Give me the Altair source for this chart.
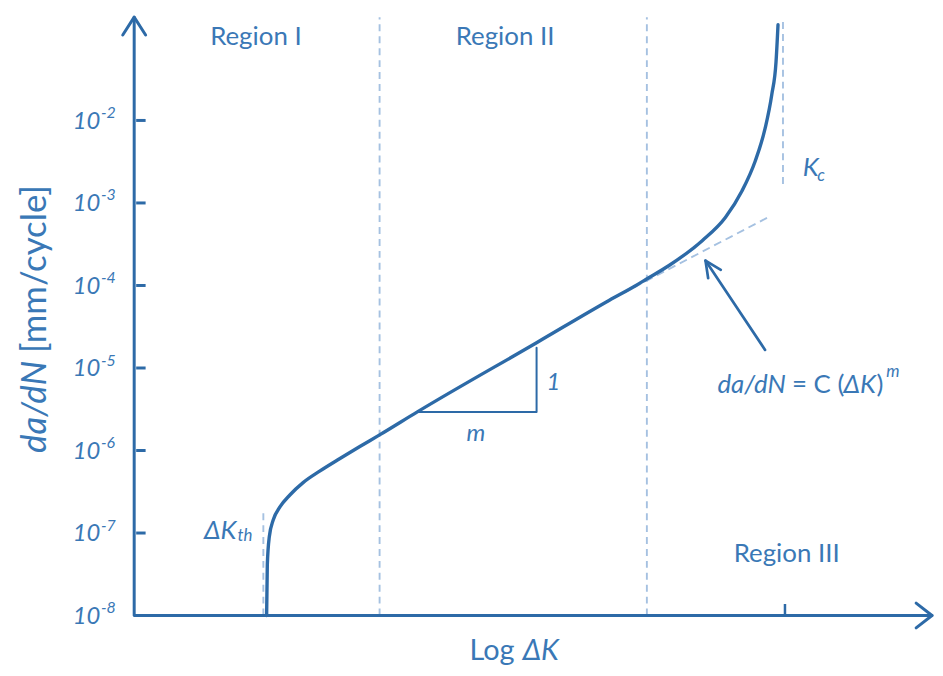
import altair as alt
import pandas as pd

# ---------------- data: x = log ΔK (arbitrary units), y = log10(da/dN) ----------------
curve_x = [1.333, 1.34, 1.36, 1.40, 1.467, 1.567, 1.70, 1.867, 2.067, 2.267, 2.47,
           2.85, 4.05, 4.783, 5.05, 5.15, 5.383, 5.717, 5.95, 6.117, 6.25, 6.35,
           6.417, 6.46, 6.48]
curve_logy = [-8.0, -7.382, -7.045, -6.840, -6.684, -6.539, -6.389, -6.250, -6.100, -5.955, -5.811,
              -5.532, -4.694, -4.179, -4.00, -3.927, -3.758, -3.457, -3.176, -2.855, -2.494, -2.097,
              -1.688, -1.29, -0.84]

paris_x = [4.80, 6.37]
paris_logy = [-4.167, -3.18]

guide_x = [1.30, 2.47, 5.16, 6.53]
guide_top = [-6.73, -0.75, -0.75, -0.77]
guide_bottom = [-8.0, -8.0, -8.0, -2.77]

tri_x = [2.85, 4.05, 4.05]
tri_logy = [-5.532, -5.532, -4.754]

ytick_exp = [-8, -7, -6, -5, -4, -3, -2]
kc_tick_x = [6.55]

axis_x = [0.0, 0.0, 8.03]
axis_logy = [-0.748, -8.0, -8.0]
yarrow_x = [-0.115, 0.0, 0.115]
yarrow_logy = [-0.965, -0.748, -0.965]
xarrow_x = [7.87, 8.03, 7.87]
xarrow_logy = [-7.85, -8.0, -8.15]

ann_x = [6.35, 5.75]
ann_logy = [-4.781, -3.698]
head_x = [5.777, 5.75, 5.904]
head_logy = [-3.912, -3.698, -3.810]

BLUE = "#2d6aa7"
TXT = "#3a78b6"
LIGHT = "#a5c1e1"
FONT = "Lato"

xs = alt.Scale(domain=[-1.27, 8.06], nice=False, zero=False)
ys = alt.Scale(type="log", domain=[10 ** -8.61, 10 ** -0.663], nice=False)


def X(f="x"):
    return alt.X(f"{f}:Q", scale=xs, axis=None)


def Y(f="y"):
    return alt.Y(f"{f}:Q", scale=ys, axis=None)


def path_df(xv, lv, grp=0):
    return pd.DataFrame({"x": xv, "y": [10 ** v for v in lv], "i": list(range(len(xv))), "g": grp})


def path_layer(df, color, width, dash=None, interp="linear"):
    kw = dict(color=color, strokeWidth=width, interpolate=interp, strokeCap="round", strokeJoin="round")
    if dash:
        kw["strokeDash"] = dash
        kw["strokeCap"] = "butt"
    return alt.Chart(df).mark_line(**kw).encode(
        x=X(), y=Y(), order=alt.Order("i:Q"), detail="g:N")


def text_layer(xv, lv, labels, size, italic=False, align="left", angle=0, baseline="alphabetic"):
    df = pd.DataFrame({"x": xv, "y": [10 ** v for v in lv], "t": labels})
    kw = dict(font=FONT, fontSize=size, align=align, baseline=baseline, color=TXT)
    if italic:
        kw["fontStyle"] = "italic"
    if angle:
        kw["angle"] = angle
    return alt.Chart(df).mark_text(**kw).encode(x=X(), y=Y(), text="t:N")


# guides (dashed verticals)
guide_df = pd.DataFrame({"x": guide_x, "y": [10 ** v for v in guide_bottom],
                         "y2": [10 ** v for v in guide_top]})
guides = alt.Chart(guide_df).mark_rule(color=LIGHT, strokeWidth=1.9, strokeDash=[7, 5]).encode(
    x=X(), y=Y(), y2="y2:Q")

paris = path_layer(path_df(paris_x, paris_logy), LIGHT, 1.9, dash=[8, 5])
curve = path_layer(path_df(curve_x, curve_logy), BLUE, 3.4, interp="monotone")
tri = path_layer(path_df(tri_x, tri_logy), BLUE, 2.0)

axes_df = pd.concat([path_df(axis_x, axis_logy, 0), path_df(yarrow_x, yarrow_logy, 1),
                     path_df(xarrow_x, xarrow_logy, 2)])
axes = path_layer(axes_df, BLUE, 3.0)

ann_df = pd.concat([path_df(ann_x, ann_logy, 0), path_df(head_x, head_logy, 1)])
ann = path_layer(ann_df, BLUE, 2.7)

# tick marks
yt_df = pd.DataFrame({"x": [0.02] * 6, "x2": [0.115] * 6, "y": [10.0 ** e for e in ytick_exp[1:]]})
yticks = alt.Chart(yt_df).mark_rule(color=BLUE, strokeWidth=3).encode(x=X(), x2="x2:Q", y=Y())
xt_df = pd.DataFrame({"x": kc_tick_x, "y": [10 ** -8.0], "y2": [10 ** -7.86]})
xticks = alt.Chart(xt_df).mark_rule(color=BLUE, strokeWidth=2.5).encode(x=X(), y=Y(), y2="y2:Q")

# tick labels 10^n
ten_lab = text_layer([-0.34] * 7, [e - 0.10 for e in ytick_exp], ["10"] * 7, 24, italic=True, align="right")
exp_lab = text_layer([-0.335] * 7, [e + 0.03 for e in ytick_exp], [str(e) for e in ytick_exp], 16, italic=True)

# region labels
regions = text_layer([1.225, 3.733, 6.567], [-1.089, -1.089, -7.350],
                     ["Region I", "Region II", "Region III"], 26, align="center")

# ΔK_th and K_c
dkth = text_layer([1.03], [-7.069], ["ΔK"], 26, italic=True, align="right")
dkth_sub = text_layer([1.04], [-7.10], ["th"], 17, italic=True)
kc = text_layer([6.73], [-2.674], ["K"], 26, italic=True)
kc_sub = text_layer([6.875], [-2.734], ["c"], 17, italic=True)

# slope triangle labels
one = text_layer([4.22], [-5.263], ["1"], 24, italic=True, align="center")
m_lab = text_layer([3.44], [-5.889], ["m"], 24, italic=True, align="center")

# formula  da/dN = C (ΔK)^m
f_da = text_layer([5.87], [-5.30], ["da/dN"], 26, italic=True)
f_eq = text_layer([6.62], [-5.30], ["= C ("], 26)
f_dk = text_layer([7.14], [-5.30], ["ΔK"], 26, italic=True)
f_cl = text_layer([7.47], [-5.30], [")"], 26)
f_m = text_layer([7.57], [-5.106], ["m"], 17, italic=True)

# axis titles
xt1 = text_layer([3.375], [-8.537], ["Log"], 29)
xt2 = text_layer([3.91], [-8.537], ["ΔK"], 29, italic=True)
yt1 = text_layer([-0.89], [-4.914], ["da/dN"], 35, italic=True, align="right", angle=270)
yt2 = text_layer([-0.89], [-4.818], ["[mm/cycle]"], 35, align="left", angle=270)

chart = alt.layer(
    guides, paris, tri, curve, axes, yticks, xticks, ann,
    ten_lab, exp_lab, regions, dkth, dkth_sub, kc, kc_sub, one, m_lab,
    f_da, f_eq, f_dk, f_cl, f_m, xt1, xt2, yt1, yt2,
).properties(
    width=933, height=660, autosize="none", padding=0, background="white"
).configure_view(stroke=None)

chart.save("out.html", embed_options={"renderer": "svg", "actions": False})
